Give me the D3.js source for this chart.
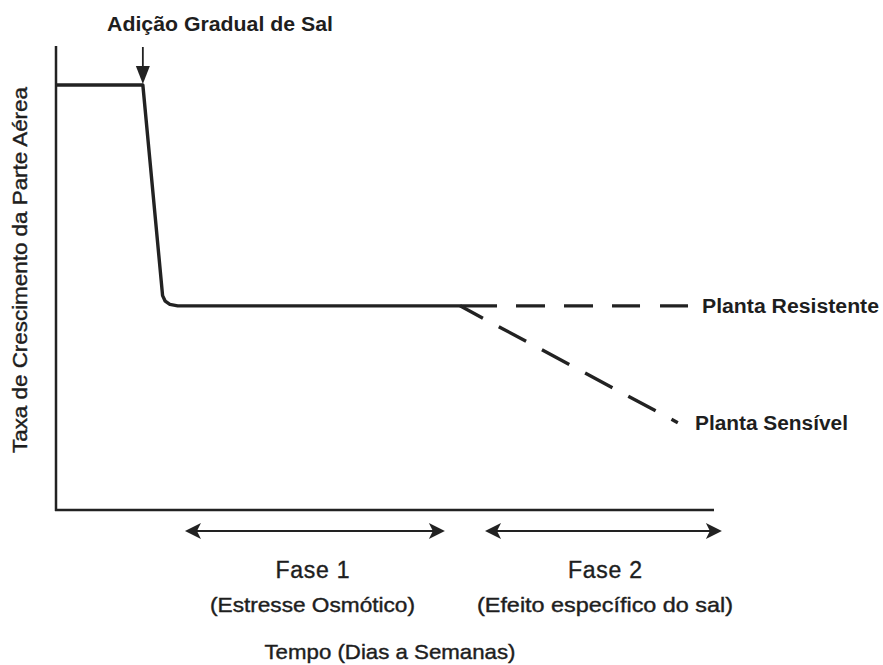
<!DOCTYPE html>
<html lang="pt">
<head>
<meta charset="utf-8">
<script src="https://cdn.jsdelivr.net/npm/d3@7"></script>
<style>
  html, body { margin: 0; padding: 0; background: #fff; }
  svg text { font-family: "Liberation Sans", Arial, sans-serif; fill: #1e1e1e; }
</style>
</head>
<body>
<svg id="chart" width="883" height="665"></svg>
<script>
// growth curve (time units 0-100, growth rate 0-100)
const mainTime   = [0, 13.2, 16.2, 16.6, 17.3, 18.5, 61.4];
const mainRate   = [91.6, 91.6, 46.2, 45.0, 44.3, 44.0, 44.0];
const resistTime = [61.4, 96.2];
const resistRate = [44.0, 44.0];
const sensTime   = [61.4, 94.5];
const sensRate   = [44.0, 18.8];

// phase intervals on the time axis
const phaseNames  = ["Fase 1", "Fase 2"];
const phaseNotes  = ["(Estresse Osmótico)", "(Efeito específico do sal)"];
const phaseStart  = [19.6, 65.2];
const phaseEnd    = [59.1, 101.2];

const saltTime = 13.2;

const svg = d3.select("#chart");
const ink = "#222";

const x = d3.scaleLinear().domain([0, 100]).range([56, 714]);
const y = d3.scaleLinear().domain([0, 100]).range([510, 46]);

const line = d3.line().x(d => x(d[0])).y(d => y(d[1]));
const zip = (a, b) => a.map((v, i) => [v, b[i]]);

// axes (plain lines, no ticks)
svg.append("line")
  .attr("x1", x(0)).attr("x2", x(0))
  .attr("y1", y(0) + 1).attr("y2", y(100))
  .attr("stroke", ink).attr("stroke-width", 2.5);
svg.append("line")
  .attr("x1", x(0) - 1).attr("x2", x(100))
  .attr("y1", y(0)).attr("y2", y(0))
  .attr("stroke", ink).attr("stroke-width", 2.5);

// main curve
svg.append("path")
  .datum(zip(mainTime, mainRate))
  .attr("d", line)
  .attr("fill", "none")
  .attr("stroke", ink)
  .attr("stroke-width", 3.4)
  .attr("stroke-linejoin", "round");

// resistant plant
svg.append("path")
  .datum(zip(resistTime, resistRate))
  .attr("d", line)
  .attr("fill", "none")
  .attr("stroke", ink)
  .attr("stroke-width", 3.4)
  .attr("stroke-dasharray", "37,19,29,19,29,19,28,20,28,100");

// sensitive plant
svg.append("path")
  .datum(zip(sensTime, sensRate))
  .attr("d", line)
  .attr("fill", "none")
  .attr("stroke", ink)
  .attr("stroke-width", 3.4)
  .attr("stroke-dasharray", "31,18")
  .attr("stroke-dashoffset", 5);

// arrow marking salt addition
const sx = x(saltTime);
svg.append("line")
  .attr("x1", sx).attr("x2", sx)
  .attr("y1", 47).attr("y2", 70)
  .attr("stroke", ink).attr("stroke-width", 1.8);
svg.append("path")
  .attr("d", `M${sx - 7},66 L${sx + 7},66 L${sx},84 Z`)
  .attr("fill", ink);

svg.append("text")
  .attr("x", 220).attr("y", 31)
  .attr("text-anchor", "middle")
  .attr("font-size", 21).attr("font-weight", "bold")
  .attr("textLength", 226).attr("lengthAdjust", "spacingAndGlyphs")
  .text("Adição Gradual de Sal");

// y label
svg.append("text")
  .attr("transform", "translate(27,270) rotate(-90)")
  .attr("text-anchor", "middle")
  .attr("font-size", 21)
  .attr("stroke", "#1e1e1e").attr("stroke-width", 0.4)
  .attr("textLength", 366).attr("lengthAdjust", "spacingAndGlyphs")
  .text("Taxa de Crescimento da Parte Aérea");

// series labels
svg.append("text")
  .attr("x", 702).attr("y", y(resistRate[1]) + 7)
  .attr("font-size", 20).attr("font-weight", "bold")
  .attr("textLength", 177).attr("lengthAdjust", "spacingAndGlyphs")
  .text("Planta Resistente");
svg.append("text")
  .attr("x", 695).attr("y", y(sensRate[1]) + 7)
  .attr("font-size", 20).attr("font-weight", "bold")
  .attr("textLength", 153).attr("lengthAdjust", "spacingAndGlyphs")
  .text("Planta Sensível");

// phase arrows and captions
const arrowY = 531;
phaseNames.forEach((name, i) => {
  const a = x(phaseStart[i]), b = x(phaseEnd[i]);
  svg.append("line")
    .attr("x1", a + 10).attr("x2", b - 10)
    .attr("y1", arrowY).attr("y2", arrowY)
    .attr("stroke", ink).attr("stroke-width", 2);
  svg.append("path")
    .attr("d", `M${a},${arrowY} L${a + 16},${arrowY - 8} L${a + 12},${arrowY} L${a + 16},${arrowY + 8} Z`)
    .attr("fill", ink);
  svg.append("path")
    .attr("d", `M${b},${arrowY} L${b - 16},${arrowY - 8} L${b - 12},${arrowY} L${b - 16},${arrowY + 8} Z`)
    .attr("fill", ink);

  const cx = i === 0 ? 312.5 : 605;
  svg.append("text")
    .attr("x", cx).attr("y", 578)
    .attr("text-anchor", "middle")
    .attr("font-size", 23)
    .attr("stroke", "#1e1e1e").attr("stroke-width", 0.4)
    .attr("textLength", 74).attr("lengthAdjust", "spacing")
    .text(name);
  svg.append("text")
    .attr("x", cx).attr("y", 612)
    .attr("text-anchor", "middle")
    .attr("font-size", 21)
    .attr("stroke", "#1e1e1e").attr("stroke-width", 0.4)
    .attr("textLength", i === 0 ? 205 : 256).attr("lengthAdjust", "spacingAndGlyphs")
    .text(phaseNotes[i]);
});

svg.append("text")
  .attr("x", 390).attr("y", 659)
  .attr("text-anchor", "middle")
  .attr("font-size", 21)
  .attr("stroke", "#1e1e1e").attr("stroke-width", 0.4)
  .attr("textLength", 251).attr("lengthAdjust", "spacingAndGlyphs")
  .text("Tempo (Dias a Semanas)");
</script>
</body>
</html>
